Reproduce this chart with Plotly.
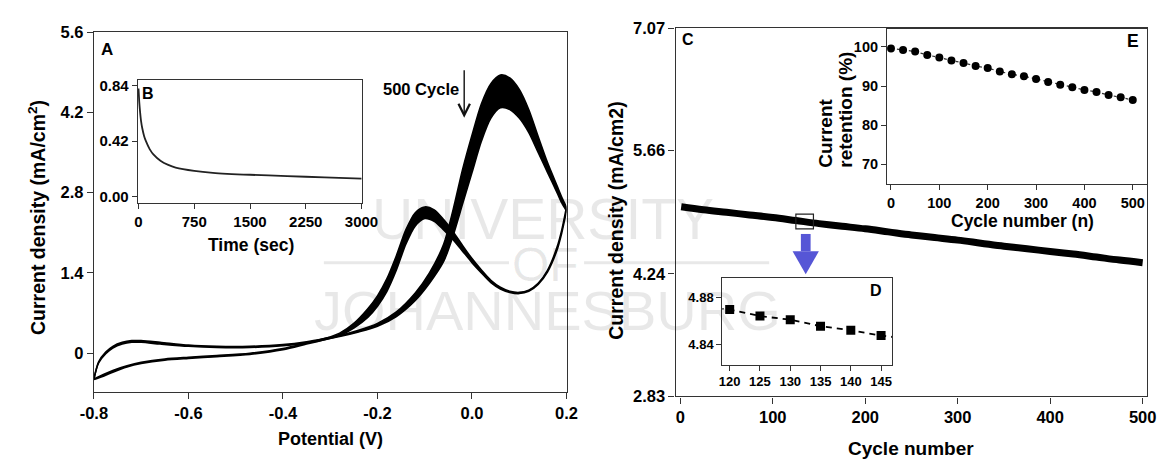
import plotly.graph_objects as go

W, H = 1174, 466
def px(x): return x / W
def py(y): return 1 - y / H

# ---------------- Panel A: cyclic voltammograms (cycle 1 and cycle 500) ----------------
fwd_potential = [-0.80, -0.79, -0.775, -0.76, -0.74, -0.72, -0.70, -0.66, -0.60, -0.54, -0.47,
                 -0.40, -0.35, -0.31, -0.28, -0.24, -0.20, -0.16, -0.12, -0.09, -0.06, -0.04,
                 -0.02, 0.00, 0.02, 0.04, 0.06, 0.08, 0.10, 0.12, 0.14, 0.16, 0.18, 0.19, 0.20]
fwd_cycle1 = [-0.45, -0.15, 0.02, 0.12, 0.19, 0.22, 0.22, 0.19, 0.14, 0.12, 0.12,
              0.15, 0.20, 0.26, 0.31, 0.40, 0.52, 0.72, 1.05, 1.40, 1.90, 2.50,
              3.20, 3.80, 4.35, 4.70, 4.85, 4.80, 4.60, 4.25, 3.78, 3.32, 2.92, 2.72, 2.55]
fwd_cycle500 = [-0.45, -0.17, -0.01, 0.09, 0.16, 0.19, 0.19, 0.16, 0.12, 0.10, 0.10,
                0.13, 0.18, 0.24, 0.29, 0.37, 0.47, 0.64, 0.92, 1.22, 1.60, 2.05,
                2.60, 3.15, 3.70, 4.10, 4.28, 4.25, 4.10, 3.85, 3.50, 3.15, 2.80, 2.62, 2.48]

rev_potential = [0.20, 0.19, 0.18, 0.16, 0.14, 0.12, 0.10, 0.08, 0.06, 0.04, 0.02, 0.00,
                 -0.02, -0.04, -0.06, -0.08, -0.10, -0.12, -0.14, -0.16, -0.18, -0.20, -0.22,
                 -0.25, -0.28, -0.31, -0.35, -0.40, -0.47, -0.54, -0.60, -0.65, -0.70, -0.73,
                 -0.76, -0.78, -0.80]
rev_cycle1 = [2.55, 2.15, 1.85, 1.45, 1.22, 1.10, 1.06, 1.08, 1.15, 1.27, 1.45, 1.65,
              1.88, 2.12, 2.33, 2.50, 2.55, 2.45, 2.15, 1.70, 1.30, 1.00, 0.78,
              0.52, 0.35, 0.26, 0.18, 0.08, 0.00, -0.04, -0.07, -0.10, -0.16, -0.22,
              -0.30, -0.37, -0.45]
rev_cycle500 = [2.48, 2.10, 1.80, 1.42, 1.20, 1.08, 1.04, 1.06, 1.12, 1.23, 1.40, 1.58,
                1.78, 1.98, 2.15, 2.30, 2.35, 2.22, 1.90, 1.45, 1.08, 0.82, 0.63,
                0.44, 0.31, 0.24, 0.16, 0.06, -0.02, -0.06, -0.09, -0.12, -0.18, -0.24,
                -0.33, -0.40, -0.46]

# ---------------- Inset B: chronoamperometry ----------------
time_s = [0, 10, 20, 35, 50, 75, 100, 150, 200, 300, 400, 500, 750, 1000, 1500, 2000, 2500, 3000]
ca_current = [0.82, 0.72, 0.65, 0.57, 0.52, 0.46, 0.42, 0.36, 0.32, 0.27, 0.24, 0.22, 0.195,
              0.18, 0.165, 0.155, 0.145, 0.135]

# ---------------- Panel C: peak current vs cycle number ----------------
c_cycles = [1, 25, 50, 75, 100, 125, 150, 175, 200, 225, 250, 275, 300, 325, 350, 375, 400,
            425, 450, 475, 500]
c_current = [5.015, 4.98, 4.95, 4.92, 4.89, 4.855, 4.82, 4.79, 4.76, 4.725, 4.69, 4.66, 4.63,
             4.595, 4.56, 4.53, 4.50, 4.47, 4.435, 4.40, 4.37]

# ---------------- Inset D: zoom 120-145 cycles ----------------
d_cycles = [120, 125, 130, 135, 140, 145]
d_current = [4.8696, 4.864, 4.861, 4.8555, 4.852, 4.8476]
d_line_cycles = [118, 120, 125, 130, 135, 140, 145, 148]
d_line_current = [4.8705, 4.8696, 4.864, 4.861, 4.8555, 4.852, 4.8476, 4.8458]

# ---------------- Inset E: current retention ----------------
e_cycles = [0, 25, 50, 75, 100, 125, 150, 175, 200, 225, 250, 275, 300, 325, 350, 375, 400,
            425, 450, 475, 500]
e_retention = [99.6, 99.2, 98.8, 97.9, 97.3, 96.5, 95.9, 95.1, 94.6, 93.7, 93.0, 92.5, 91.8,
               91.0, 90.3, 89.7, 89.0, 88.5, 87.7, 87.1, 86.4]

FONT = "Arial, Liberation Sans, sans-serif"
AX = "#333333"

fig = go.Figure()

# Panel A traces
fig.add_trace(go.Scatter(x=fwd_potential, y=fwd_cycle1, mode="lines",
                         line=dict(color="black", width=1.6, shape="spline", smoothing=0.8),
                         xaxis="x", yaxis="y", showlegend=False))
fig.add_trace(go.Scatter(x=fwd_potential, y=fwd_cycle500, mode="lines", fill="tonexty",
                         fillcolor="black",
                         line=dict(color="black", width=1.6, shape="spline", smoothing=0.8),
                         xaxis="x", yaxis="y", showlegend=False))
fig.add_trace(go.Scatter(x=rev_potential, y=rev_cycle1, mode="lines",
                         line=dict(color="black", width=1.6, shape="spline", smoothing=0.8),
                         xaxis="x", yaxis="y", showlegend=False))
fig.add_trace(go.Scatter(x=rev_potential, y=rev_cycle500, mode="lines", fill="tonexty",
                         fillcolor="black",
                         line=dict(color="black", width=1.6, shape="spline", smoothing=0.8),
                         xaxis="x", yaxis="y", showlegend=False))

# Inset B
fig.add_trace(go.Scatter(x=time_s, y=ca_current, mode="lines",
                         line=dict(color="#222222", width=1.8, shape="spline", smoothing=0.6),
                         xaxis="x2", yaxis="y2", showlegend=False))

# Panel C
fig.add_trace(go.Scatter(x=c_cycles, y=c_current, mode="lines",
                         line=dict(color="black", width=7, shape="spline"),
                         xaxis="x3", yaxis="y3", showlegend=False))

# Inset D
fig.add_trace(go.Scatter(x=d_line_cycles, y=d_line_current, mode="lines",
                         line=dict(color="black", width=1.8, dash="6px,5px"),
                         xaxis="x4", yaxis="y4", showlegend=False))
fig.add_trace(go.Scatter(x=d_cycles, y=d_current, mode="markers",
                         marker=dict(symbol="square", color="black", size=9),
                         xaxis="x4", yaxis="y4", showlegend=False))

# Inset E
fig.add_trace(go.Scatter(x=e_cycles, y=e_retention, mode="lines+markers",
                         line=dict(color="#333333", width=1.2, dash="dot"),
                         marker=dict(symbol="circle", color="black", size=8),
                         xaxis="x5", yaxis="y5", showlegend=False))


def axis(domain, rng, tickvals, ticktext, size, anchor, ticklen=6, lw=1.3):
    return dict(domain=domain, range=rng, tickvals=tickvals, ticktext=ticktext,
                anchor=anchor, showgrid=False, zeroline=False, showline=True,
                linecolor=AX, linewidth=lw, mirror=True, ticks="outside",
                ticklen=ticklen, tickwidth=1.2, tickcolor=AX,
                tickfont=dict(family=FONT, size=size, color="black", weight="bold"))

a_xt = [-0.8, -0.6, -0.4, -0.2, 0.0, 0.2]
a_yt = [0, 1.4, 2.8, 4.2, 5.6]
b_xt = [0, 750, 1500, 2250, 3000]
b_yt = [0.0, 0.42, 0.84]
c_xt = [0, 100, 200, 300, 400, 500]
c_yt = [2.83, 4.24, 5.66, 7.07]
d_xt = [120, 125, 130, 135, 140, 145]
d_yt = [4.84, 4.88]
e_xt = [0, 100, 200, 300, 400, 500]
e_yt = [70, 80, 90, 100]

fig.update_layout(
    width=W, height=H, margin=dict(l=0, r=0, t=0, b=0),
    paper_bgcolor="white", plot_bgcolor="white",
    xaxis=axis([px(82), px(567)], [-0.8, 0.2], a_xt, ["-0.8", "-0.6", "-0.4", "-0.2", "0.0", "0.2"], 16.5, "y"),
    yaxis=axis([py(398), py(24)], [-0.67, 5.6], a_yt, ["0", "1.4", "2.8", "4.2", "5.6"], 16.5, "x"),
    xaxis2=axis([px(127), px(357)], [-10, 3005], b_xt, [str(v) for v in b_xt], 15, "y2", 5),
    yaxis2=axis([py(202), py(74)], [-0.051, 0.884], b_yt, ["0.00", "0.42", "0.84"], 15, "x2", 5),
    xaxis3=axis([px(679), px(1163)], [-5, 505], c_xt, [str(v) for v in c_xt], 16.5, "y3"),
    yaxis3=axis([py(403), py(20)], [2.83, 7.07], c_yt, ["2.83", "4.24", "5.66", "7.07"], 16.5, "x3"),
    xaxis4=axis([px(727), px(901)], [118.8, 146.8], d_xt, [str(v) for v in d_xt], 13, "y4", 5),
    yaxis4=axis([py(370), py(280)], [4.823, 4.896], d_yt, ["4.84", "4.88"], 13, "x4", 5),
    xaxis5=axis([px(896), px(1163)], [-8, 530], e_xt, [str(v) for v in e_xt], 14.5, "y5", 5),
    yaxis5=axis([py(182), py(21)], [65, 104.5], e_yt, [str(v) for v in e_yt], 14.5, "x5", 5),
)

ann = []
def txt(x, y, s, size, angle=0, color="black", weight="bold", xanchor="center", yanchor="middle"):
    ann.append(dict(x=px(x), y=py(y), xref="paper", yref="paper", text=s, showarrow=False,
                    textangle=angle, xanchor=xanchor, yanchor=yanchor,
                    font=dict(family=FONT, size=size, color=color, weight=weight)))

# Watermark text (semi-transparent overlay)
wm = "rgba(0,0,0,0.09)"
txt(543, 218, "UNIVERSITY", 57, color=wm, weight="normal")
txt(545, 266, "OF", 48, color=wm, weight="normal")
txt(547, 314, "JOHANNESBURG", 56, color=wm, weight="normal")

txt(23, 217, "Current density (mA/cm<sup>2</sup>)", 19.5, angle=-90)
txt(325, 447, "Potential (V)", 18)
txt(243, 245, "Time (sec)", 17.5)
txt(617, 220, "Current density (mA/cm2)", 19.5, angle=-90)
txt(921, 457, "Cycle number", 19)
txt(832, 167, "Current", 19, angle=-90, yanchor="bottom")
txt(853, 167, "retention (%)", 19, angle=-90, yanchor="bottom")
txt(1035, 221, "Cycle number (n)", 17.5)
txt(95, 42, "A", 17)
txt(138, 88, "B", 16)
txt(692, 32, "C", 16)
txt(1148, 33, "E", 17.5)
txt(885, 293, "D", 16)
txt(418, 83, "500 Cycle", 16.5)

# 500 Cycle arrow
ann.append(dict(x=px(462), y=py(113), xref="paper", yref="paper", ax=0, ay=-49,
                axref="pixel", ayref="pixel", text="", showarrow=True, arrowhead=5,
                arrowsize=1.6, arrowwidth=1.4, arrowcolor="#111111"))

fig.update_layout(annotations=ann)

shapes = []
# watermark "OF" side lines
shapes.append(dict(type="line", xref="paper", yref="paper", x0=px(318), x1=px(508),
                   y0=py(264), y1=py(264), line=dict(color=wm, width=3)))
shapes.append(dict(type="line", xref="paper", yref="paper", x0=px(585), x1=px(775),
                   y0=py(264), y1=py(264), line=dict(color=wm, width=3)))
# small box on panel C line (region of inset D)
shapes.append(dict(type="rect", xref="x3", yref="y3", x0=125, x1=144, y0=4.76, y1=4.93,
                   line=dict(color="#222222", width=1.2), fillcolor="rgba(0,0,0,0)"))
# blue arrow
blue = "#5656d6"
shapes.append(dict(type="rect", xref="paper", yref="paper", x0=px(807.5), x1=px(817.5),
                   y0=py(252), y1=py(234), line=dict(width=0), fillcolor=blue))
shapes.append(dict(type="path", xref="paper", yref="paper",
                   path=f"M {px(799)},{py(252)} L {px(826)},{py(252)} L {px(812.5)},{py(276)} Z",
                   line=dict(width=0), fillcolor=blue))
fig.update_layout(shapes=shapes)

fig.write_html("out.html")
